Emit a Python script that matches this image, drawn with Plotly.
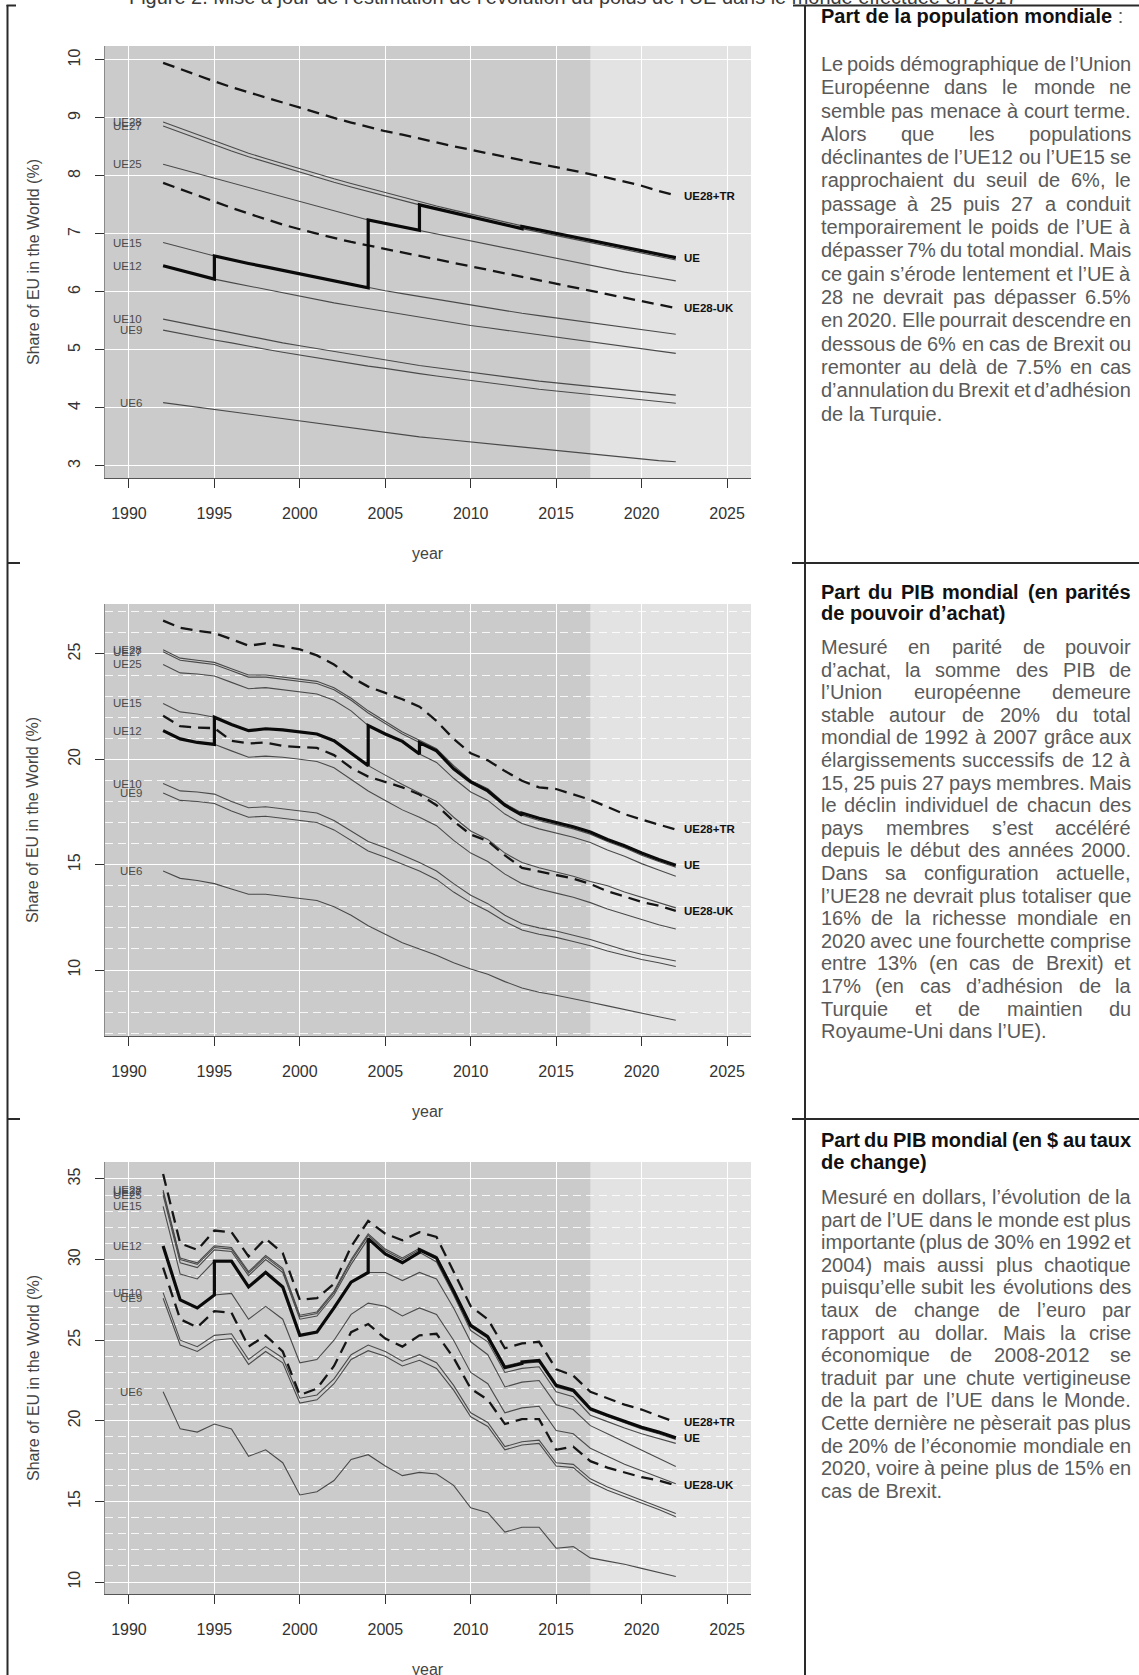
import unicodedata
import plotly.graph_objects as go

W, H = 1139, 1675
FONT = "Liberation Sans, Arial, Helvetica, sans-serif"

# ---------------------------------------------------------------- data
years = list(range(1992, 2023))
x_tick_vals = [1990, 1995, 2000, 2005, 2010, 2015, 2020, 2025]
forecast_start = 2017
thin_names = ["UE6", "UE9", "UE10", "UE12", "UE15", "UE25", "UE27", "UE28"]
ue_path = [("UE12", 1992, 1995), ("UE15", 1995, 2004), ("UE25", 2004, 2007),
           ("UE27", 2007, 2013), ("UE28", 2013, 2022)]

# Panel 1: share of world population (%)
pop_UE28 = [8.93, 8.82, 8.71, 8.60, 8.49, 8.39, 8.30, 8.21, 8.12, 8.03, 7.95, 7.87, 7.79, 7.71, 7.63, 7.55,
            7.48, 7.41, 7.34, 7.27, 7.20, 7.13, 7.07, 7.01, 6.95, 6.89, 6.83, 6.77, 6.71, 6.65, 6.59]
pop_UE27 = [8.86, 8.75, 8.64, 8.53, 8.43, 8.33, 8.24, 8.15, 8.06, 7.97, 7.89, 7.81, 7.73, 7.65, 7.57, 7.50,
            7.43, 7.36, 7.29, 7.22, 7.15, 7.09, 7.03, 6.97, 6.91, 6.85, 6.79, 6.73, 6.67, 6.61, 6.55]
pop_UE25 = [8.20, 8.12, 8.04, 7.96, 7.88, 7.80, 7.72, 7.64, 7.57, 7.49, 7.41, 7.33, 7.24, 7.18, 7.12, 7.06,
            6.99, 6.93, 6.87, 6.81, 6.75, 6.69, 6.63, 6.57, 6.51, 6.46, 6.40, 6.34, 6.29, 6.24, 6.19]
pop_UE15 = [6.85, 6.77, 6.70, 6.62, 6.55, 6.49, 6.43, 6.37, 6.31, 6.25, 6.19, 6.13, 6.07, 6.02, 5.97, 5.92,
            5.87, 5.82, 5.77, 5.72, 5.67, 5.63, 5.59, 5.55, 5.51, 5.47, 5.43, 5.39, 5.35, 5.31, 5.27]
pop_UE12 = [6.45, 6.37, 6.30, 6.22, 6.16, 6.10, 6.04, 5.98, 5.92, 5.86, 5.81, 5.76, 5.71, 5.66, 5.61, 5.56,
            5.51, 5.46, 5.42, 5.38, 5.34, 5.30, 5.26, 5.22, 5.18, 5.14, 5.10, 5.06, 5.02, 4.98, 4.94]
pop_UE10 = [5.53, 5.47, 5.41, 5.35, 5.29, 5.23, 5.18, 5.12, 5.07, 5.02, 4.97, 4.92, 4.87, 4.82, 4.77, 4.73,
            4.69, 4.65, 4.61, 4.57, 4.53, 4.50, 4.46, 4.43, 4.40, 4.37, 4.34, 4.31, 4.28, 4.25, 4.22]
pop_UE9 = [5.34, 5.28, 5.23, 5.17, 5.12, 5.06, 5.01, 4.96, 4.91, 4.86, 4.81, 4.77, 4.72, 4.68, 4.63, 4.59,
           4.55, 4.51, 4.47, 4.43, 4.39, 4.36, 4.32, 4.29, 4.26, 4.23, 4.20, 4.17, 4.14, 4.11, 4.08]
pop_UE6 = [4.09, 4.05, 4.01, 3.97, 3.93, 3.89, 3.85, 3.81, 3.77, 3.73, 3.69, 3.65, 3.61, 3.57, 3.53, 3.50,
           3.47, 3.44, 3.41, 3.38, 3.35, 3.32, 3.29, 3.26, 3.23, 3.20, 3.17, 3.14, 3.12, 3.09, 3.07]
pop_TR = [9.95, 9.84, 9.73, 9.63, 9.53, 9.44, 9.35, 9.26, 9.17, 9.08, 9.00, 8.92, 8.84, 8.77, 8.71, 8.64,
          8.57, 8.51, 8.45, 8.39, 8.33, 8.27, 8.22, 8.16, 8.10, 8.04, 7.97, 7.90, 7.83, 7.74, 7.66]
pop_UK = [7.88, 7.77, 7.66, 7.55, 7.45, 7.35, 7.25, 7.16, 7.08, 7.00, 6.93, 6.86, 6.80, 6.74, 6.68, 6.62,
          6.56, 6.50, 6.44, 6.38, 6.32, 6.26, 6.21, 6.15, 6.09, 6.03, 5.97, 5.91, 5.84, 5.78, 5.72]

# Panel 2: share of world GDP, PPP (%)
ppp_UE28 = [25.2, 24.8, 24.7, 24.6, 24.3, 24.0, 24.0, 23.9, 23.8, 23.7, 23.4, 22.9, 22.3, 21.8, 21.3, 20.9,
            20.5, 19.7, 19.0, 18.6, 17.9, 17.45, 17.2, 17.0, 16.8, 16.55, 16.2, 15.9, 15.55, 15.25, 14.97]
ppp_UE27 = [25.1, 24.7, 24.6, 24.5, 24.2, 23.9, 23.9, 23.8, 23.7, 23.6, 23.3, 22.8, 22.2, 21.7, 21.2, 20.8,
            20.4, 19.55, 18.93, 18.5, 17.82, 17.35, 17.1, 16.9, 16.7, 16.45, 16.1, 15.8, 15.45, 15.15, 14.88]
ppp_UE25 = [24.5, 24.1, 24.05, 23.95, 23.65, 23.35, 23.4, 23.3, 23.2, 23.1, 22.8, 22.3, 21.6, 21.2, 20.85,
            20.25, 19.85, 19.1, 18.45, 18.05, 17.4, 16.95, 16.7, 16.5, 16.3, 16.05, 15.7, 15.4, 15.05, 14.75, 14.45]
ppp_UE15 = [22.65, 22.25, 22.15, 22.0, 21.65, 21.36, 21.45, 21.4, 21.3, 21.2, 20.88, 20.3, 19.7, 19.25, 18.8,
            18.4, 18.0, 17.25, 16.6, 16.2, 15.55, 15.1, 14.85, 14.65, 14.45, 14.2, 14.0, 13.7, 13.45, 13.2, 12.95]
ppp_UE12 = [21.36, 20.97, 20.8, 20.71, 20.4, 20.1, 20.15, 20.1, 20.0, 19.9, 19.6, 19.05, 18.5, 18.05, 17.6,
            17.25, 16.85, 16.15, 15.55, 15.15, 14.55, 14.1, 13.85, 13.65, 13.45, 13.2, 12.9, 12.65, 12.4, 12.15, 11.95]
ppp_UE10 = [18.85, 18.5, 18.45, 18.35, 18.0, 17.7, 17.75, 17.65, 17.55, 17.45, 17.1, 16.6, 16.1, 15.8, 15.45,
            15.1, 14.7, 14.1, 13.55, 13.15, 12.6, 12.2, 12.0, 11.85, 11.65, 11.45, 11.2, 10.95, 10.75, 10.6, 10.43]
ppp_UE9 = [18.4, 18.05, 18.0, 17.9, 17.55, 17.25, 17.3, 17.2, 17.1, 17.0, 16.65, 16.15, 15.65, 15.35, 15.02,
           14.7, 14.3, 13.7, 13.2, 12.8, 12.3, 11.9, 11.7, 11.55, 11.35, 11.15, 10.9, 10.7, 10.5, 10.35, 10.17]
ppp_UE6 = [14.7, 14.35, 14.25, 14.1, 13.85, 13.6, 13.6, 13.5, 13.4, 13.3, 13.0, 12.6, 12.1, 11.7, 11.3, 11.0,
           10.7, 10.35, 10.05, 9.8, 9.45, 9.15, 8.95, 8.8, 8.65, 8.47, 8.3, 8.12, 7.95, 7.78, 7.62]
ppp_TR = [26.58, 26.24, 26.1, 25.99, 25.7, 25.39, 25.5, 25.35, 25.22, 24.93, 24.5, 23.9, 23.45, 23.15, 22.85,
          22.5, 21.82, 20.97, 20.29, 19.95, 19.44, 18.98, 18.67, 18.59, 18.33, 18.08, 17.74, 17.40, 17.14, 16.89, 16.67]
ppp_UK = [22.07, 21.57, 21.5, 21.48, 20.88, 20.75, 20.8, 20.63, 20.58, 20.54, 20.2, 19.6, 19.18, 18.93, 18.67,
          18.33, 17.82, 17.06, 16.43, 16.12, 15.44, 14.85, 14.68, 14.51, 14.34, 14.08, 13.74, 13.49, 13.23, 13.06, 12.81]

# Panel 3: share of world GDP, USD at market exchange rates (%)
usd_UE28 = [34.3, 30.1, 29.8, 30.85, 30.75, 29.25, 30.25, 29.45, 26.55, 26.75, 28.05, 30.0, 31.6, 30.65, 30.1,
            30.7, 30.2, 28.15, 26.0, 25.3, 23.4, 23.65, 23.75, 22.2, 21.9, 20.75, 20.35, 19.95, 19.6, 19.3, 18.95]
usd_UE27 = [34.2, 30.0, 29.7, 30.75, 30.65, 29.15, 30.15, 29.35, 26.45, 26.65, 27.95, 29.9, 31.5, 30.55, 30.0,
            30.6, 30.1, 28.05, 25.9, 25.2, 23.3, 23.55, 23.65, 22.1, 21.8, 20.65, 20.25, 19.85, 19.5, 19.2, 18.85]
usd_UE25 = [34.0, 29.8, 29.5, 30.6, 30.5, 29.0, 30.0, 29.2, 26.3, 26.5, 27.8, 29.7, 31.3, 30.35, 29.8, 30.45,
            29.85, 27.8, 25.6, 24.9, 23.0, 23.25, 23.35, 21.8, 21.5, 20.35, 19.95, 19.55, 19.2, 18.9, 18.6]
usd_UE15 = [33.3, 29.1, 28.8, 29.9, 29.9, 28.3, 29.2, 28.3, 25.3, 25.5, 27.0, 28.6, 29.2, 29.2, 28.7, 29.2,
            28.8, 27.0, 24.9, 24.1, 22.1, 22.4, 22.5, 21.0, 20.7, 19.7, 19.2, 18.7, 18.2, 17.7, 17.16]
usd_UE12 = [30.84, 27.5, 27.0, 27.8, 27.9, 26.3, 27.1, 26.3, 23.6, 23.8, 25.0, 26.6, 27.3, 27.1, 26.5, 27.0,
            26.6, 25.0, 23.0, 22.3, 20.5, 20.8, 20.9, 19.4, 19.2, 18.3, 17.8, 17.3, 16.9, 16.5, 16.1]
usd_UE10 = [27.95, 25.0, 24.6, 25.3, 25.4, 23.8, 24.6, 23.9, 21.4, 21.6, 22.6, 24.1, 24.7, 24.3, 23.7, 24.1,
            23.6, 22.2, 20.5, 19.9, 18.4, 18.7, 18.8, 17.4, 17.3, 16.4, 15.9, 15.5, 15.1, 14.7, 14.25]
usd_UE9 = [27.6, 24.7, 24.3, 25.0, 25.1, 23.5, 24.3, 23.6, 21.1, 21.3, 22.3, 23.8, 24.35, 24.0, 23.4, 23.75,
           23.25, 21.9, 20.25, 19.65, 18.2, 18.5, 18.6, 17.2, 17.1, 16.2, 15.7, 15.3, 14.9, 14.5, 14.05]
usd_UE6 = [21.8, 19.5, 19.3, 19.8, 19.5, 17.8, 18.2, 17.4, 15.4, 15.6, 16.3, 17.6, 17.9, 17.2, 16.6, 16.8,
           16.7, 16.0, 14.6, 14.3, 13.1, 13.4, 13.4, 12.1, 12.2, 11.5, 11.3, 11.1, 10.85, 10.6, 10.35]
usd_TR = [35.3, 31.0, 30.6, 31.8, 31.7, 30.2, 31.3, 30.4, 27.5, 27.6, 28.5, 30.8, 32.4, 31.6, 31.2, 31.7,
          31.4, 29.3, 27.1, 26.3, 24.5, 24.8, 24.9, 23.2, 22.8, 21.8, 21.4, 21.0, 20.7, 20.3, 19.9]
usd_UK = [29.5, 26.3, 25.8, 26.8, 26.7, 24.6, 25.3, 24.3, 21.6, 22.0, 23.4, 25.5, 26.0, 25.1, 24.6, 25.3,
          25.4, 23.9, 22.0, 21.3, 19.8, 20.1, 20.1, 18.2, 18.4, 17.5, 17.1, 16.8, 16.5, 16.3, 16.0]

# Text column
title_text = ("Figure 2. Mise à jour de l’estimation de l’évolution du poids de l’UE "
              "dans le monde effectuée en 2017")
p1_body = [
    "Le poids démographique de l’Union",
    "Européenne dans le monde ne",
    "semble pas menace à court terme.",
    "Alors que les populations",
    "déclinantes de l’UE12 ou l’UE15 se",
    "rapprochaient du seuil de 6%, le",
    "passage à 25 puis 27 a conduit",
    "temporairement le poids de l’UE à",
    "dépasser 7% du total mondial. Mais",
    "ce gain s’érode lentement et l’UE à",
    "28 ne devrait pas dépasser 6.5%",
    "en 2020. Elle pourrait descendre en",
    "dessous de 6% en cas de Brexit ou",
    "remonter au delà de 7.5% en cas",
    "d’annulation du Brexit et d’adhésion",
    "de la Turquie.",
]
p2_head = ["Part du PIB mondial (en parités", "de pouvoir d’achat)"]
p2_body = [
    "Mesuré en parité de pouvoir",
    "d’achat, la somme des PIB de",
    "l’Union européenne demeure",
    "stable autour de 20% du total",
    "mondial de 1992 à 2007 grâce aux",
    "élargissements successifs de 12 à",
    "15, 25 puis 27 pays membres. Mais",
    "le déclin individuel de chacun des",
    "pays membres s’est accéléré",
    "depuis le début des années 2000.",
    "Dans sa configuration actuelle,",
    "l’UE28 ne devrait plus totaliser que",
    "16% de la richesse mondiale en",
    "2020 avec une fourchette comprise",
    "entre 13% (en cas de Brexit) et",
    "17% (en cas d’adhésion de la",
    "Turquie et de maintien du",
    "Royaume-Uni dans l’UE).",
]
p3_head = ["Part du PIB mondial (en $ au taux", "de change)"]
p3_body = [
    "Mesuré en dollars, l’évolution de la",
    "part de l’UE dans le monde est plus",
    "importante (plus de 30% en 1992 et",
    "2004) mais aussi plus chaotique",
    "puisqu’elle subit les évolutions des",
    "taux de change de l’euro par",
    "rapport au dollar. Mais la crise",
    "économique de 2008-2012 se",
    "traduit par une chute vertigineuse",
    "de la part de l’UE dans le Monde.",
    "Cette dernière ne pèserait pas plus",
    "de 20% de l’économie mondiale en",
    "2020, voire à peine plus de 15% en",
    "cas de Brexit.",
]

# ---------------------------------------------------------------- helpers
REG_W = {' ': 278, '!': 278, '$': 556, '%': 889, "'": 191, '’': 222, '(': 333, ')': 333, '+': 584,
         ',': 278, '-': 333, '.': 278, ':': 278, ';': 278,
         'A': 667, 'B': 667, 'C': 722, 'D': 722, 'E': 667, 'F': 611, 'G': 778, 'H': 722, 'I': 278,
         'J': 500, 'K': 667, 'L': 556, 'M': 833, 'N': 722, 'O': 778, 'P': 667, 'Q': 778, 'R': 722,
         'S': 667, 'T': 611, 'U': 722, 'V': 667, 'W': 944, 'X': 667, 'Y': 667, 'Z': 611,
         'a': 556, 'b': 556, 'c': 500, 'd': 556, 'e': 556, 'f': 278, 'g': 556, 'h': 556, 'i': 222,
         'j': 222, 'k': 500, 'l': 222, 'm': 833, 'n': 556, 'o': 556, 'p': 556, 'q': 556, 'r': 333,
         's': 500, 't': 278, 'u': 556, 'v': 500, 'w': 722, 'x': 500, 'y': 500, 'z': 500}
for _d in '0123456789':
    REG_W[_d] = 556
BOLD_W = {' ': 278, '$': 556, '%': 889, "'": 238, '’': 278, '(': 333, ')': 333, ',': 278, '-': 333,
          '.': 278, ':': 333,
          'A': 722, 'B': 722, 'C': 722, 'D': 722, 'E': 667, 'F': 611, 'G': 778, 'H': 722, 'I': 278,
          'J': 556, 'K': 722, 'L': 611, 'M': 833, 'N': 722, 'O': 778, 'P': 667, 'Q': 778, 'R': 722,
          'S': 667, 'T': 611, 'U': 722, 'V': 667, 'W': 944, 'X': 667, 'Y': 667, 'Z': 611,
          'a': 556, 'b': 611, 'c': 556, 'd': 611, 'e': 556, 'f': 333, 'g': 611, 'h': 611, 'i': 278,
          'j': 278, 'k': 556, 'l': 278, 'm': 889, 'n': 611, 'o': 611, 'p': 611, 'q': 611, 'r': 389,
          's': 556, 't': 333, 'u': 611, 'v': 556, 'w': 778, 'x': 556, 'y': 556, 'z': 500}
for _d in '0123456789':
    BOLD_W[_d] = 556


def text_w(s, size, bold=False):
    tbl = BOLD_W if bold else REG_W
    tot = 0
    for ch in s:
        if ch not in tbl:
            ch = unicodedata.normalize('NFD', ch)[0]
        tot += tbl.get(ch, 556)
    return tot * size / 1000.0


annotations = []
shapes = []


def ann_px(x, y, text, size, color, xanchor='left', yanchor='middle', angle=0):
    annotations.append(dict(xref='paper', yref='paper', x=x / W, y=1 - y / H, text=text,
                            xanchor=xanchor, yanchor=yanchor, showarrow=False, textangle=angle,
                            borderpad=0, font=dict(family=FONT, size=size, color=color)))


TX0, TX1 = 820, 1132
BODY_SIZE, BODY_COLOR = 20, '#5a5a5a'
HEAD_COLOR = '#111111'


def add_line(line, y, bold, color, justify):
    fmt = (lambda s: f"<b>{s}</b>") if bold else (lambda s: s)
    if not justify:
        ann_px(TX0, y, fmt(line), BODY_SIZE, color)
        return
    words = line.split(' ')
    ws = [text_w(w, BODY_SIZE, bold) for w in words]
    gap = (TX1 - TX0 - sum(ws)) / (len(words) - 1)
    x = TX0
    for k, (w, wd) in enumerate(zip(words, ws)):
        if k == 0:
            ann_px(TX0, y, fmt(w), BODY_SIZE, color, xanchor='left')
        elif k == len(words) - 1:
            ann_px(TX1, y, fmt(w), BODY_SIZE, color, xanchor='right')
        else:
            ann_px(x + wd / 2, y, fmt(w), BODY_SIZE, color, xanchor='center')
        x += wd + gap


def add_block(head, head_y, head_step, body, body_y, body_step):
    for k, line in enumerate(head):
        add_line(line, head_y + k * head_step, True, HEAD_COLOR, k < len(head) - 1)
    for k, line in enumerate(body):
        add_line(line, body_y + k * body_step, False, BODY_COLOR, k < len(body) - 1)


# ---------------------------------------------------------------- figure
PL, PR, PH = 105, 751, 432
TOPS = [46, 604, 1162]
XRANGE = [1988.6, 2026.4]
YRANGES = [[2.79, 10.24], [6.87, 27.37], [9.26, 36.05]]
YTICKS = [list(range(3, 11)), [10, 15, 20, 25], [10, 15, 20, 25, 30, 35]]
MINOR = [None, 1, 1]

panels = [
    ({"UE6": pop_UE6, "UE9": pop_UE9, "UE10": pop_UE10, "UE12": pop_UE12, "UE15": pop_UE15,
      "UE25": pop_UE25, "UE27": pop_UE27, "UE28": pop_UE28}, pop_TR, pop_UK),
    ({"UE6": ppp_UE6, "UE9": ppp_UE9, "UE10": ppp_UE10, "UE12": ppp_UE12, "UE15": ppp_UE15,
      "UE25": ppp_UE25, "UE27": ppp_UE27, "UE28": ppp_UE28}, ppp_TR, ppp_UK),
    ({"UE6": usd_UE6, "UE9": usd_UE9, "UE10": usd_UE10, "UE12": usd_UE12, "UE15": usd_UE15,
      "UE25": usd_UE25, "UE27": usd_UE27, "UE28": usd_UE28}, usd_TR, usd_UK),
]

fig = go.Figure()
layout = {}

for i, (data, tr, uk) in enumerate(panels):
    sx = '' if i == 0 else str(i + 1)
    xa, ya = 'x' + sx, 'y' + sx
    top = TOPS[i]

    for name in thin_names:
        fig.add_trace(go.Scatter(x=years, y=data[name], mode='lines', xaxis=xa, yaxis=ya,
                                 line=dict(color='#4a4a4a', width=1.1), hoverinfo='skip'))
    for s in (tr, uk):
        fig.add_trace(go.Scatter(x=years, y=s, mode='lines', xaxis=xa, yaxis=ya,
                                 line=dict(color='#151515', width=2.3, dash='12px,7px'),
                                 hoverinfo='skip'))
    ux, uy = [], []
    for name, a, b in ue_path:
        for yr in range(a, b + 1):
            ux.append(yr)
            uy.append(data[name][years.index(yr)])
    fig.add_trace(go.Scatter(x=ux, y=uy, mode='lines', xaxis=xa, yaxis=ya,
                             line=dict(color='#0a0a0a', width=3.2), hoverinfo='skip'))

    # series labels
    for name in thin_names:
        annotations.append(dict(x=1990.9, y=data[name][0], xref=xa, yref=ya, text=name,
                                xanchor='right', yanchor='middle', showarrow=False,
                                font=dict(family=FONT, size=11.5, color='#4a4a4a')))
    for lab, s in (("UE28+TR", tr), ("UE", data["UE28"]), ("UE28-UK", uk)):
        annotations.append(dict(x=2022.35, y=s[-1], xref=xa, yref=ya, text=f"<b>{lab}</b>",
                                xanchor='left', yanchor='middle', showarrow=False,
                                font=dict(family=FONT, size=11.5, color='#111111')))

    # shaded observed period
    shapes.append(dict(type='rect', xref=xa, yref=ya + ' domain', x0=XRANGE[0], x1=forecast_start,
                       y0=0, y1=1, fillcolor='#cbcbcb', line=dict(width=0), layer='below'))

    yaxis = dict(domain=[1 - (top + PH) / H, 1 - top / H], anchor=xa, range=YRANGES[i],
                 tickvals=YTICKS[i], tickangle=-90, ticks='outside', ticklen=9, tickwidth=1.3,
                 tickcolor='#333333', showline=True, linecolor='#8a8a8a', linewidth=1,
                 showgrid=True, gridcolor='white', gridwidth=1.3, zeroline=False,
                 tickfont=dict(family=FONT, size=16, color='#333333'), ticklabelstandoff=9)
    if MINOR[i]:
        yaxis['minor'] = dict(dtick=MINOR[i], showgrid=True, gridcolor='rgba(255,255,255,0.85)',
                              griddash='8px,5px', gridwidth=1, ticks='')
    layout['yaxis' + sx] = yaxis
    layout['xaxis' + sx] = dict(domain=[PL / W, PR / W], anchor=ya, range=XRANGE,
                                tickvals=x_tick_vals, ticks='outside', ticklen=9, tickwidth=1.3,
                                tickcolor='#333333', showline=True, linecolor='#555555', linewidth=1,
                                showgrid=True, gridcolor='white', gridwidth=1.2, zeroline=False,
                                tickfont=dict(family=FONT, size=16, color='#333333'),
                                ticklabelstandoff=12)

    # axis titles
    ann_px((PL + PR) / 2, top + PH + 75, "year", 16, '#444444', xanchor='center')
    ann_px(33, top + PH / 2, "Share of EU in the World (%)", 16, '#444444', xanchor='center',
           angle=-90)


# ---------------------------------------------------------------- page frame
def seg(x0, y0, x1, y1, w=2):
    shapes.append(dict(type='line', xref='paper', yref='paper', x0=x0 / W, y0=1 - y0 / H,
                       x1=x1 / W, y1=1 - y1 / H, line=dict(color='#2a2a2a', width=w)))


SEP = [563, 1119]
seg(7.5, 5, 7.5, H)
seg(6.5, 5.5, 16, 5.5)
seg(805, 5, 805, H)
seg(793, 5.5, W, 5.5)
for sy in SEP:
    seg(7.5, sy, 20, sy)
    seg(792, sy, W, sy)

# title (cut at the top of the page)
title_size = 889 / text_w(title_text, 1.0)
ann_px(128, -3, title_text, title_size, '#3a3a3a')

# text column
annotations.append(dict(xref='paper', yref='paper', x=TX0 / W, y=1 - 16 / H,
                        text="<b>Part de la population mondiale</b> <span style='color:#5a5a5a'>:</span>",
                        xanchor='left', yanchor='middle', showarrow=False, borderpad=0,
                        font=dict(family=FONT, size=20, color=HEAD_COLOR)))
add_block([], 0, 0, p1_body, 64, 23.3)
add_block(p2_head, 592, 21.0, p2_body, 647, 22.6)
add_block(p3_head, 1140, 21.5, p3_body, 1197, 22.6)

layout.update(dict(width=W, height=H, margin=dict(l=0, r=0, t=0, b=0),
                   paper_bgcolor='white', plot_bgcolor='#e3e3e3', showlegend=False,
                   annotations=annotations, shapes=shapes))
fig.update_layout(**layout)

fig.write_html("out.html", config={'displayModeBar': False},
               post_script="document.body.style.margin='0';")
